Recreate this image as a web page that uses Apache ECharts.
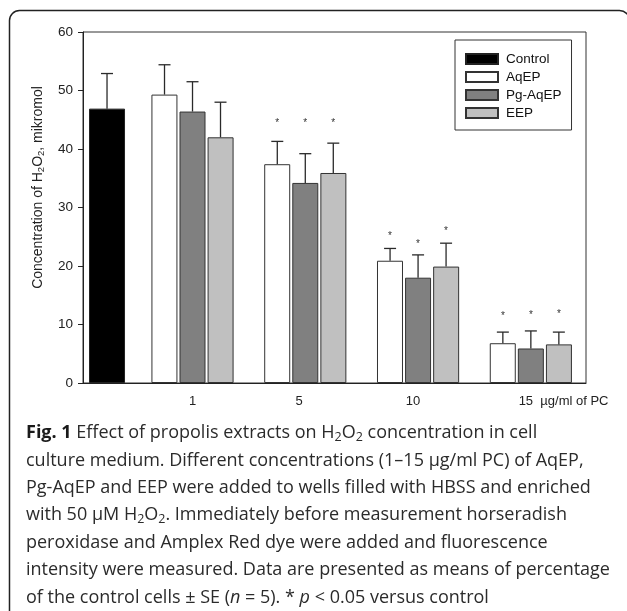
<!DOCTYPE html>
<html>
<head>
<meta charset="utf-8">
<script src="https://cdn.jsdelivr.net/npm/echarts@6/dist/echarts.min.js"></script>
<style>
  html, body { margin: 0; padding: 0; background: #fff; }
  #main { width: 627px; height: 611px; }
</style>
</head>
<body>
<div id="main"></div>
<script>
// 数据
const groupLabels = ['1', '5', '10', '15  µg/ml of PC'];
const groupPos = [1, 2, 3, 4];
const labelPos = [1, 1.945, 2.955, 4.29];
const controlPos = 0.242;

const controlMean = 46.9;
const controlSE = 6.0;
const aqepMean = [49.3, 37.4, 20.9, 6.8];
const aqepSE = [5.1, 3.9, 2.1, 1.9];
const pgMean = [46.4, 34.2, 18.0, 5.9];
const pgSE = [5.1, 5.0, 3.9, 3.0];
const eepMean = [42.0, 35.9, 19.9, 6.6];
const eepSE = [6.0, 5.1, 4.0, 2.1];
// 星号位置 (null = 无)
const aqepStar = [null, 44.8, 25.4, 11.75];
const pgStar = [null, 44.8, 24.05, 12.0];
const eepStar = [null, 44.8, 26.3, 12.1];

const captionLines = [
    '{b|Fig. 1} Effect of propolis extracts on H{s|2}O{s|2} concentration in cell',
    'culture medium. Different concentrations (1–15 µg/ml PC) of AqEP,',
    'Pg-AqEP and EEP were added to wells filled with HBSS and enriched',
    'with 50 µM H{s|2}O{s|2}. Immediately before measurement horseradish',
    'peroxidase and Amplex Red dye were added and fluorescence',
    'intensity were measured. Data are presented as means of percentage',
    'of the control cells ± SE ({i|n} = 5). * {i|p} < 0.05 versus control'
];

var myChart = echarts.init(document.getElementById('main'));
const FONT = 'Liberation Sans, Arial, sans-serif';
const CAP_FONT = 'Open Sans, Noto Sans, sans-serif';

function pairs(xs, ys) {
    return xs.map((x, i) => [x, ys[i]]);
}

// 误差线
function errorSeries(xs, means, ses, offset, axisIdx) {
    return {
        type: 'custom',
        xAxisIndex: axisIdx,
        z: 5,
        silent: true,
        data: xs.map((x, i) => [x, means[i], ses[i]]),
        encode: { x: 0, y: 1 },
        renderItem: function (params, api) {
            const x = api.value(0);
            const m = api.value(1);
            const s = api.value(2);
            const p0 = api.coord([x, m]);
            const p1 = api.coord([x, m + s]);
            const cx = p0[0] + offset;
            const st = { stroke: '#2a2a2a', lineWidth: 1.3 };
            return {
                type: 'group',
                children: [
                    { type: 'line', shape: { x1: cx, y1: p0[1], x2: cx, y2: p1[1] }, style: st },
                    { type: 'line', shape: { x1: cx - 6, y1: p1[1], x2: cx + 6, y2: p1[1] }, style: st }
                ]
            };
        }
    };
}

// 星号
function starSeries(xs, stars, offset) {
    const d = [];
    xs.forEach((x, i) => { if (stars[i] != null) d.push([x, stars[i]]); });
    return {
        type: 'custom',
        z: 6,
        silent: true,
        data: d,
        encode: { x: 0, y: 1 },
        renderItem: function (params, api) {
            const p = api.coord([api.value(0), api.value(1)]);
            return {
                type: 'text',
                x: p[0] + offset,
                y: p[1] + 2,
                style: {
                    text: '*', fill: '#333', fontSize: 10, fontFamily: FONT,
                    align: 'center', verticalAlign: 'middle'
                }
            };
        }
    };
}

const barCommon = {
    type: 'bar',
    barWidth: 26,
    barGap: '8%',
    itemStyle: { borderColor: '#333', borderWidth: 1 },
    z: 3
};

const captionGraphics = captionLines.map((t, i) => ({
    type: 'text',
    x: 26,
    y: 433 + i * 27.4,
    style: {
        text: t,
        fill: '#2b2b2b',
        fontSize: 18,
        fontFamily: CAP_FONT,
        verticalAlign: 'middle',
        rich: {
            b: { fontWeight: 'bold', fontSize: 18, fontFamily: CAP_FONT, fill: '#1a1a1a' },
            s: { fontSize: 12.5, fontFamily: CAP_FONT, padding: [8, 0, 0, 0] },
            i: { fontStyle: 'italic', fontSize: 18, fontFamily: CAP_FONT }
        }
    }
}));

var option = {
    animation: false,
    backgroundColor: '#fff',
    graphic: [
        {
            type: 'rect',
            shape: { x: 9.5, y: 10.5, width: 620, height: 630, r: 10 },
            style: { fill: 'none', stroke: '#222', lineWidth: 1.5 },
            silent: true
        }
    ].concat(captionGraphics),
    legend: {
        orient: 'vertical',
        left: 455,
        top: 40,
        padding: [12, 10, 10, 10],
        itemWidth: 32,
        itemHeight: 10,
        itemGap: 4,
        borderColor: '#333',
        borderWidth: 1,
        icon: 'rect',
        textStyle: { fontSize: 13.5, lineHeight: 14, color: '#111', fontFamily: FONT, padding: [0, 0, 0, 3] },
        data: ['Control', 'AqEP', 'Pg-AqEP', 'EEP']
    },
    grid: {
        left: 83, right: 41, top: 32, bottom: 228,
        show: true,
        borderColor: '#333',
        borderWidth: 1,
        outerBoundsMode: 'none'
    },
    xAxis: [
        {
            type: 'value',
            min: 0.029,
            max: 4.489,
            axisLine: { show: true, lineStyle: { color: '#222', width: 1 } },
            axisTick: { show: false },
            splitLine: { show: false },
            axisLabel: {
                customValues: labelPos,
                formatter: function (v, idx) {
                    const k = labelPos.indexOf(v);
                    return k >= 0 ? groupLabels[k] : '';
                },
                fontSize: 13,
                color: '#222',
                fontFamily: FONT,
                margin: 12
            }
        },
        {
            type: 'value',
            min: 0.029,
            max: 4.489,
            show: false
        }
    ],
    yAxis: {
        type: 'value',
        min: 0,
        max: 60,
        interval: 10,
        name: 'Concentration of H{s|2}O{s|2}, mikromol',
        nameLocation: 'middle',
        nameGap: 37,
        nameTextStyle: {
            fontSize: 14,
            color: '#222',
            fontFamily: FONT,
            padding: [0, 0, 0, 40],
            rich: {
                s: { fontSize: 9.5, fontFamily: FONT, padding: [5, 0, 0, 0] }
            }
        },
        axisLine: { show: true, lineStyle: { color: '#222', width: 1 } },
        axisTick: { show: true, length: 5, lineStyle: { color: '#222' } },
        splitLine: { show: false },
        axisLabel: { fontSize: 13.5, color: '#222', fontFamily: FONT, margin: 10 }
    },
    series: [
        Object.assign({}, barCommon, {
            name: 'Control',
            xAxisIndex: 1,
            barWidth: 36,
            itemStyle: { color: '#000', borderColor: '#222', borderWidth: 1 },
            data: [[controlPos, controlMean]]
        }),
        Object.assign({}, barCommon, {
            name: 'AqEP',
            itemStyle: { color: '#fff', borderColor: '#333', borderWidth: 1 },
            data: pairs(groupPos, aqepMean)
        }),
        Object.assign({}, barCommon, {
            name: 'Pg-AqEP',
            itemStyle: { color: '#808080', borderColor: '#333', borderWidth: 1 },
            data: pairs(groupPos, pgMean)
        }),
        Object.assign({}, barCommon, {
            name: 'EEP',
            itemStyle: { color: '#c0c0c0', borderColor: '#333', borderWidth: 1 },
            data: pairs(groupPos, eepMean)
        }),
        errorSeries([controlPos], [controlMean], [controlSE], 0, 1),
        errorSeries(groupPos, aqepMean, aqepSE, -28, 0),
        errorSeries(groupPos, pgMean, pgSE, 0, 0),
        errorSeries(groupPos, eepMean, eepSE, 28, 0),
        starSeries(groupPos, aqepStar, -28),
        starSeries(groupPos, pgStar, 0),
        starSeries(groupPos, eepStar, 28)
    ]
};

myChart.setOption(option);
</script>
</body>
</html>
